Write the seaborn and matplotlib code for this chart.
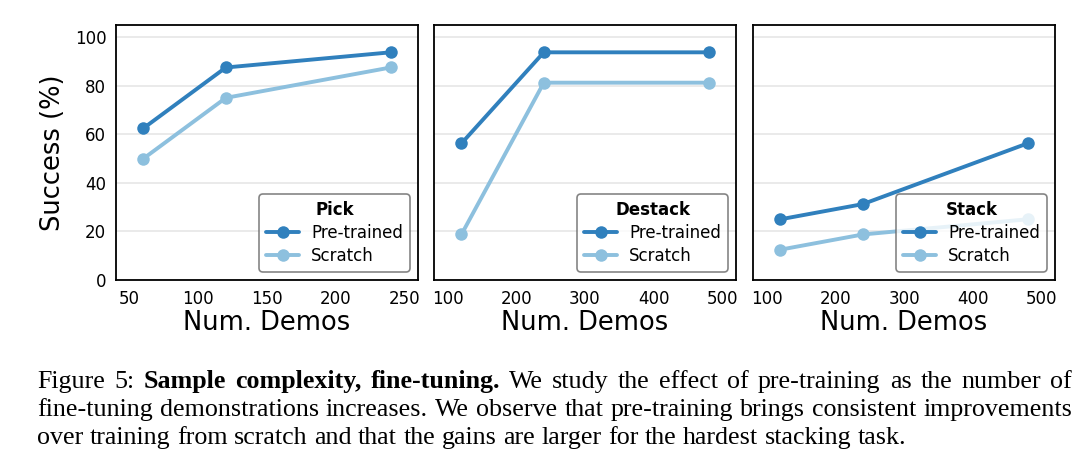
import matplotlib
matplotlib.use("Agg")
import matplotlib.pyplot as plt
import seaborn as sns
import pandas as pd

sns.set_style("white")
plt.rcParams['font.family'] = ['DejaVu Sans']
plt.rcParams['text.color'] = 'black'
plt.rcParams['axes.labelcolor'] = 'black'
plt.rcParams['xtick.color'] = 'black'
plt.rcParams['ytick.color'] = 'black'

# data
tasks = ['Pick', 'Destack', 'Stack']
demos_pick = [60, 120, 240]
demos_other = [120, 240, 480]
pre_pick = [62.5, 87.5, 93.75]
scr_pick = [50.0, 75.0, 87.5]
pre_destack = [56.25, 93.75, 93.75]
scr_destack = [18.75, 81.25, 81.25]
pre_stack = [25.0, 31.25, 56.25]
scr_stack = [12.5, 18.75, 25.0]
xlims = [(40, 260), (80, 520), (80, 520)]
xticks = [[50, 100, 150, 200, 250], [100, 200, 300, 400, 500], [100, 200, 300, 400, 500]]

series = {
    'Pick': (demos_pick, pre_pick, scr_pick),
    'Destack': (demos_other, pre_destack, scr_destack),
    'Stack': (demos_other, pre_stack, scr_stack),
}
colors = {'Pre-trained': '#3080bd', 'Scratch': '#8dc0de'}

fig = plt.figure(figsize=(10.8, 4.69), dpi=100)
lefts = [116, 434, 753]

for k, task in enumerate(tasks):
    ax = fig.add_axes([lefts[k] / 1080, 1 - 280 / 469, 302 / 1080, 255 / 469])
    x, pre, scr = series[task]
    df = pd.DataFrame({'demos': x + x,
                       'success': pre + scr,
                       'model': ['Pre-trained'] * 3 + ['Scratch'] * 3})
    sns.lineplot(data=df, x='demos', y='success', hue='model', palette=colors,
                 marker='o', markersize=9, markeredgewidth=0, linewidth=2.8, ax=ax)
    ax.set_xlim(*xlims[k])
    ax.set_ylim(0, 105)
    ax.set_xticks(xticks[k])
    ax.set_yticks([0, 20, 40, 60, 80, 100])
    ax.yaxis.grid(True, color='#e6e6e6', linewidth=1.2)
    ax.set_axisbelow(True)
    ax.tick_params(labelsize=12, length=0, pad=7)
    for s in ax.spines.values():
        s.set_color('black')
        s.set_linewidth(1.3)
    ax.set_xlabel('Num. Demos', fontsize=18.5, labelpad=2)
    if k == 0:
        ax.set_ylabel('Success (%)', fontsize=18.5, labelpad=6)
    else:
        ax.set_ylabel('')
        ax.set_yticklabels([])
    leg = ax.legend(title=task, loc='lower right', fontsize=12, title_fontsize=12,
                    frameon=True, fancybox=True, edgecolor='#666666',
                    handlelength=2.0, handletextpad=0.7, borderpad=0.4, labelspacing=0.3)
    leg.get_title().set_fontweight('bold')
    leg.get_frame().set_linewidth(1.2)

# caption, justified line by line
fs = 18.7
cap_lines = [
    [('Figure', 0), ('5:', 0), ('Sample', 1), ('complexity,', 1), ('fine-tuning.', 1), ('We', 0), ('study', 0),
     ('the', 0), ('effect', 0), ('of', 0), ('pre-training', 0), ('as', 0), ('the', 0), ('number', 0), ('of', 0)],
    [('fine-tuning', 0), ('demonstrations', 0), ('increases.', 0), ('We', 0), ('observe', 0), ('that', 0),
     ('pre-training', 0), ('brings', 0), ('consistent', 0), ('improvements', 0)],
    [('over', 0), ('training', 0), ('from', 0), ('scratch', 0), ('and', 0), ('that', 0), ('the', 0), ('gains', 0),
     ('are', 0), ('larger', 0), ('for', 0), ('the', 0), ('hardest', 0), ('stacking', 0), ('task.', 0)],
]
baselines = [388, 416, 444]
x0, x1 = 37, 1072
fig.canvas.draw()
r = fig.canvas.get_renderer()

def width(t, b):
    tt = fig.text(0, 0, t, fontsize=fs, family='Liberation Serif', weight='bold' if b else 'normal')
    w = tt.get_window_extent(r).width
    tt.remove()
    return w

space = width('a a', 0) - width('aa', 0)
for li, line in enumerate(cap_lines):
    ws = [width(t, b) for t, b in line]
    if li < len(cap_lines) - 1:
        gap = (x1 - x0 - sum(ws)) / (len(line) - 1)
    else:
        gap = space
    xpos = x0
    for (t, b), w in zip(line, ws):
        fig.text(xpos / 1080, 1 - baselines[li] / 469, t, fontsize=fs, family='Liberation Serif',
                 weight='bold' if b else 'normal', va='baseline', ha='left')
        xpos += w + gap

fig.savefig('out.png', dpi=100)
